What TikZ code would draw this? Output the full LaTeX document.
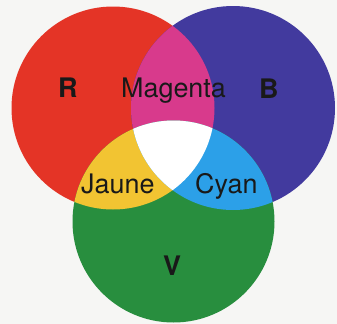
\documentclass[tikz,border=0pt]{standalone}
\usepackage{fontspec}
\setmainfont{TeX Gyre Heros}
\definecolor{bgc}{RGB}{246,246,244}
\definecolor{rc}{RGB}{228,52,38}
\definecolor{bc}{RGB}{66,58,158}
\definecolor{gc}{RGB}{40,142,62}
\definecolor{mc}{RGB}{216,58,140}
\definecolor{yc}{RGB}{242,196,50}
\definecolor{cc}{RGB}{44,160,232}
\definecolor{wc}{RGB}{255,255,255}
\begin{document}
\begin{tikzpicture}[x=1bp,y=-1bp,
  lbl/.style={inner sep=0pt,anchor=base west,font=\fontsize{27}{30}\selectfont,text=black!90},
  blbl/.style={lbl,font=\fontsize{27}{30}\selectfont\bfseries}]
\fill[bgc] (0,0) rectangle (337,324);
\useasboundingbox (0,0) rectangle (337,324);
\def\redc{(113,108) circle[radius=101.5]}
\def\bluec{(233,108) circle[radius=102]}
\def\greenc{(173.5,221.5) circle[radius=101]}
\fill[rc] \redc;
\fill[bc] \bluec;
\fill[gc] \greenc;
\begin{scope}
  \clip \redc;
  \fill[mc] \bluec;
  \fill[yc] \greenc;
\end{scope}
\begin{scope}
  \clip \bluec;
  \fill[cc] \greenc;
\end{scope}
\begin{scope}
  \clip \redc;
  \clip \bluec;
  \fill[wc] \greenc;
\end{scope}
\node[blbl] (r) at (58,97) {R};
\node[blbl] (b) at (259,98) {B};
\node[blbl] (v) at (163,275) {V};
\node[lbl] (m) at (121,97) {Magenta};
\node[lbl] (j) at (81,193) {Jaune};
\node[lbl] (c) at (195,193) {Cyan};
\end{tikzpicture}
\end{document}
